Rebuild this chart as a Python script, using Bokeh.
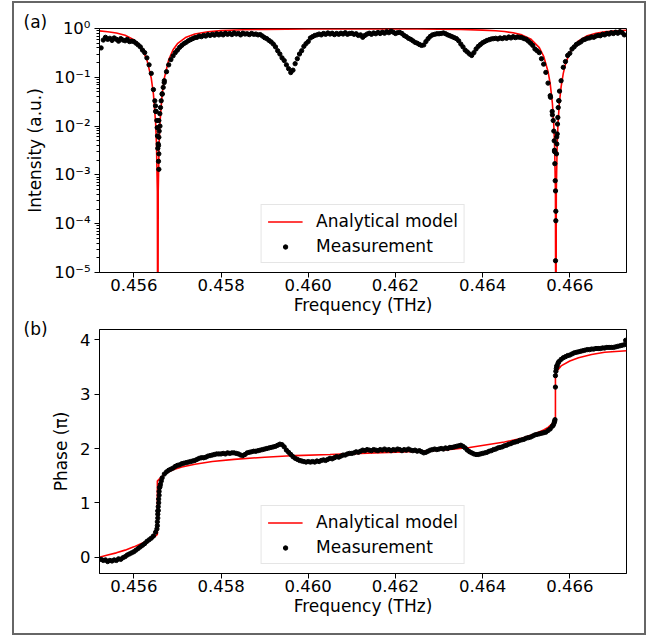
from bokeh.plotting import figure
from bokeh.models import (Range1d, FixedTicker, SingleIntervalTicker,
                          CustomJSTickFormatter, PrintfTickFormatter, Spacer)
from bokeh.layouts import column, row
from bokeh.embed import file_html
from bokeh.resources import INLINE

# ---------------- data ----------------
# measurement sampling frequencies (THz)
meas_freq = [
    0.45525, 0.45530, 0.45535, 0.45540, 0.45545, 0.45550, 0.45555, 0.45560, 0.45565, 0.45570,
    0.45575, 0.45580, 0.45585, 0.45590, 0.45595,
    0.45600, 0.45605, 0.45610, 0.45615, 0.45620, 0.45625, 0.45630, 0.45635, 0.45640, 0.45645,
    0.45650, 0.45655, 0.45660, 0.45665, 0.45670, 0.45675, 0.45680, 0.45685, 0.45690, 0.45695,
    0.45700, 0.45705, 0.45710, 0.45715, 0.45720, 0.45725, 0.45730, 0.45735, 0.45740, 0.45745,
    0.45750, 0.45755, 0.45760, 0.45765, 0.45770, 0.45775, 0.45780, 0.45785, 0.45790, 0.45795,
    0.45800, 0.45805, 0.45810, 0.45815, 0.45820, 0.45825, 0.45830, 0.45835, 0.45840, 0.45845,
    0.45850, 0.45855, 0.45860, 0.45865, 0.45870, 0.45875, 0.45880, 0.45885, 0.45890, 0.45895,
    0.45900, 0.45905, 0.45910, 0.45915, 0.45920, 0.45925, 0.45930, 0.45935, 0.45940, 0.45945,
    0.45950, 0.45955, 0.45960, 0.45965, 0.45970, 0.45975, 0.45980, 0.45985, 0.45990, 0.45995,
    0.46000, 0.46005, 0.46010, 0.46015, 0.46020, 0.46025, 0.46030, 0.46035, 0.46040, 0.46045,
    0.46050, 0.46055, 0.46060, 0.46065, 0.46070, 0.46075, 0.46080, 0.46085, 0.46090, 0.46095,
    0.46100, 0.46105, 0.46110, 0.46115, 0.46120, 0.46125, 0.46130, 0.46135, 0.46140, 0.46145,
    0.46150, 0.46155, 0.46160, 0.46165, 0.46170, 0.46175, 0.46180, 0.46185, 0.46190, 0.46195,
    0.46200, 0.46205, 0.46210, 0.46215, 0.46220, 0.46225, 0.46230, 0.46235, 0.46240, 0.46245,
    0.46250, 0.46255, 0.46260, 0.46265, 0.46270, 0.46275, 0.46280, 0.46285, 0.46290, 0.46295,
    0.46300, 0.46305, 0.46310, 0.46315, 0.46320, 0.46325, 0.46330, 0.46335, 0.46340, 0.46345,
    0.46350, 0.46355, 0.46360, 0.46365, 0.46370, 0.46375, 0.46380, 0.46385, 0.46390, 0.46395,
    0.46400, 0.46405, 0.46410, 0.46415, 0.46420, 0.46425, 0.46430, 0.46435, 0.46440, 0.46445,
    0.46450, 0.46455, 0.46460, 0.46465, 0.46470, 0.46475, 0.46480, 0.46485, 0.46490, 0.46495,
    0.46500, 0.46505, 0.46510, 0.46515, 0.46520, 0.46525, 0.46530, 0.46535, 0.46540, 0.46545,
    0.46550, 0.46555, 0.46560, 0.46565, 0.46570, 0.46575, 0.46580, 0.46585, 0.46590, 0.46595,
    0.46600, 0.46605, 0.46610, 0.46615, 0.46620, 0.46625, 0.46630, 0.46635, 0.46640, 0.46645,
    0.46650, 0.46655, 0.46660, 0.46665, 0.46670, 0.46675, 0.46680, 0.46685, 0.46690, 0.46695,
    0.46700, 0.46705, 0.46710, 0.46715, 0.46720, 0.46725,
]

# measured intensity (a.u.) at meas_freq
meas_intensity = [
    0.40, 0.58, 0.66, 0.60, 0.63, 0.57, 0.64, 0.60, 0.55, 0.62, 0.58, 0.56, 0.60, 0.54, 0.55,
    0.54, 0.50, 0.46, 0.42, 0.36, 0.32, 0.25, 0.18, 0.12, 0.056, 0.020, 0.0035, 0.010, 0.046, 0.085, 0.13, 0.18, 0.23, 0.275, 0.32,
    0.36, 0.41, 0.45, 0.49, 0.52, 0.56, 0.59, 0.62, 0.65, 0.66, 0.70, 0.68, 0.72, 0.70, 0.75, 0.72, 0.76, 0.73, 0.78, 0.74,
    0.78, 0.74, 0.80, 0.76, 0.79, 0.75, 0.81, 0.77, 0.79, 0.74, 0.80, 0.77, 0.78, 0.75, 0.79, 0.76, 0.77, 0.74, 0.75, 0.70,
    0.65, 0.62, 0.57, 0.53, 0.48, 0.42, 0.35, 0.30, 0.25, 0.22, 0.18, 0.15, 0.125, 0.14, 0.19, 0.24, 0.30, 0.35, 0.43, 0.49,
    0.54, 0.64, 0.68, 0.72, 0.74, 0.77, 0.74, 0.79, 0.76, 0.81, 0.77, 0.80, 0.75, 0.79, 0.76, 0.80, 0.77, 0.82, 0.76, 0.79,
    0.80, 0.76, 0.78, 0.72, 0.74, 0.66, 0.72, 0.77, 0.80, 0.76, 0.81, 0.78, 0.83, 0.79, 0.84, 0.80, 0.86, 0.82, 0.88, 0.84,
    0.79, 0.82, 0.83, 0.79, 0.72, 0.68, 0.63, 0.60, 0.56, 0.52, 0.50, 0.47, 0.45, 0.46, 0.54, 0.62, 0.69, 0.74, 0.76, 0.78,
    0.78, 0.79, 0.81, 0.78, 0.74, 0.71, 0.68, 0.65, 0.62, 0.56, 0.48, 0.42, 0.36, 0.33, 0.30, 0.28, 0.32, 0.38, 0.43, 0.47,
    0.51, 0.54, 0.57, 0.59, 0.61, 0.62, 0.63, 0.61, 0.64, 0.62, 0.65, 0.63, 0.67, 0.64, 0.68, 0.65, 0.67, 0.66, 0.65, 0.62,
    0.60, 0.55, 0.50, 0.45, 0.38, 0.35, 0.32, 0.24, 0.186, 0.126, 0.076, 0.042, 0.017, 0.003, 0.006, 0.033, 0.085, 0.16, 0.21, 0.28,
    0.31, 0.38, 0.42, 0.47, 0.50, 0.53, 0.58, 0.60, 0.63, 0.64, 0.67, 0.66, 0.70, 0.72, 0.71, 0.76, 0.74, 0.79, 0.77, 0.82,
    0.79, 0.84, 0.80, 0.86, 0.82, 0.74,
]

# extra (densely sampled) measurement points inside the two resonance dips
dip_freq = [
    0.456482, 0.456497, 0.456513, 0.456528, 0.456536, 0.456543, 0.456559, 0.456574, 0.456582, 0.456574,
    0.456566, 0.456574, 0.456566, 0.456574, 0.456597, 0.456612, 0.456628, 0.456651, 0.456674, 0.456697,
    0.465557, 0.465596, 0.465619, 0.465633, 0.465642, 0.465649, 0.465656, 0.465665, 0.465672, 0.465679,
    0.465679, 0.465672, 0.465695, 0.465702, 0.465711, 0.465718, 0.465725, 0.465734, 0.465748, 0.465764,
]
dip_intensity = [
    0.033, 0.026, 0.020, 0.013, 0.0093, 0.0063, 0.0043, 0.013, 0.0079, 0.0059,
    0.0040, 0.0027, 0.0019, 0.0013, 0.018, 0.024, 0.033, 0.045, 0.062, 0.078,
    0.039, 0.020, 0.013, 0.0079, 0.0050, 0.0032, 0.0017, 0.00076, 0.00047, 0.00018,
    0.000115, 0.0000174, 0.0027, 0.0043, 0.0069, 0.011, 0.015, 0.024, 0.033, 0.052,
]

# measured phase (units of pi) at meas_freq
meas_phase = [
    -0.04, -0.06, -0.05, -0.08, -0.06, -0.07, -0.05, -0.06, -0.03, -0.04, -0.01, 0.01, 0.04, 0.06, 0.08,
    0.10, 0.13, 0.16, 0.19, 0.22, 0.25, 0.29, 0.32, 0.35, 0.39, 0.46, 0.85, 1.30, 1.46, 1.53, 1.57, 1.60, 1.62, 1.64, 1.67,
    1.69, 1.70, 1.72, 1.73, 1.74, 1.75, 1.76, 1.77, 1.78, 1.80, 1.82, 1.83, 1.83, 1.84, 1.86, 1.87, 1.88, 1.89, 1.90, 1.90,
    1.90, 1.91, 1.90, 1.92, 1.91, 1.92, 1.92, 1.91, 1.90, 1.88, 1.87, 1.89, 1.92, 1.93, 1.94, 1.95, 1.95, 1.96, 1.97, 1.98,
    1.99, 2.00, 2.01, 2.02, 2.03, 2.04, 2.06, 2.08, 2.07, 2.03, 1.97, 1.93, 1.89, 1.85, 1.82, 1.80, 1.78, 1.77, 1.76, 1.75,
    1.76, 1.75, 1.76, 1.75, 1.77, 1.76, 1.78, 1.79, 1.78, 1.80, 1.82, 1.81, 1.83, 1.85, 1.84, 1.86, 1.88, 1.88, 1.90, 1.91,
    1.91, 1.92, 1.94, 1.93, 1.95, 1.97, 1.96, 1.98, 1.97, 1.96, 1.98, 1.97, 1.96, 1.98, 1.97, 1.99, 1.97, 1.98, 1.96, 1.98,
    1.97, 1.99, 1.98, 1.96, 1.98, 1.97, 1.99, 1.97, 1.96, 1.97, 1.95, 1.96, 1.94, 1.92, 1.93, 1.95, 1.97, 1.98, 1.99, 1.98,
    1.99, 2.00, 1.99, 2.01, 2.00, 2.02, 2.02, 2.03, 2.04, 2.05, 2.06, 2.04, 2.01, 1.97, 1.94, 1.92, 1.90, 1.89, 1.89, 1.90,
    1.91, 1.92, 1.93, 1.95, 1.96, 1.98, 1.99, 2.01, 2.02, 2.03, 2.05, 2.06, 2.08, 2.09, 2.11, 2.12, 2.13, 2.15, 2.16, 2.17,
    2.19, 2.20, 2.21, 2.23, 2.25, 2.26, 2.27, 2.28, 2.29, 2.30, 2.33, 2.36, 2.41, 2.50, 3.52, 3.60, 3.64, 3.67, 3.69, 3.71,
    3.72, 3.74, 3.76, 3.77, 3.78, 3.79, 3.80, 3.81, 3.82, 3.82, 3.83, 3.83, 3.84, 3.84, 3.84, 3.85, 3.85, 3.86, 3.86, 3.86,
    3.86, 3.87, 3.88, 3.89, 3.90, 3.91,
]

# extra measured phase points on the two phase jumps
jump_freq = [
    0.45653, 0.45654, 0.45654, 0.45655, 0.45655, 0.45656, 0.45656, 0.45657, 0.45657, 0.45658,
    0.45658, 0.45659, 0.45661, 0.45663,
    0.46562, 0.46564, 0.46566, 0.46567, 0.46567, 0.46568, 0.46569, 0.46571, 0.46573, 0.46728,
]
jump_phase = [
    0.52, 0.58, 0.65, 0.72, 0.79, 0.86, 0.93, 1.00, 1.07, 1.14,
    1.21, 1.28, 1.34, 1.40,
    2.43, 2.47, 2.53, 3.13, 3.34, 3.42, 3.47, 3.52, 3.57, 3.99,
]

# analytical model: intensity
model_int_freq = [
    0.45521, 0.4554, 0.4556, 0.4558, 0.4560, 0.4561, 0.4562, 0.4563, 0.4564, 0.45645,
    0.4565, 0.45652, 0.45654, 0.45655, 0.45656, 0.45658, 0.4566, 0.45665, 0.4567, 0.4568,
    0.4569, 0.4570, 0.4572, 0.4574, 0.4577, 0.4580, 0.4585, 0.4590, 0.4595, 0.4600,
    0.4605, 0.4610, 0.4615, 0.4620, 0.4625, 0.4630, 0.4635, 0.4640, 0.4643, 0.4645,
    0.4647, 0.4649, 0.4651, 0.4653, 0.4654, 0.4655, 0.46555, 0.4656, 0.46563, 0.46565,
    0.46567, 0.46568, 0.46569, 0.46571, 0.46573, 0.46576, 0.4658, 0.46585, 0.4659, 0.4660,
    0.4662, 0.4664, 0.4666, 0.4668, 0.4670, 0.4673,
]
model_int_val = [
    0.893, 0.860, 0.808, 0.725, 0.587, 0.488, 0.366, 0.228, 0.096, 0.0451,
    0.0117, 0.00424, 0.00047, 1e-8, 0.00047, 0.00424, 0.0117, 0.0451, 0.096, 0.228,
    0.366, 0.488, 0.664, 0.771, 0.859, 0.905, 0.943, 0.961, 0.971, 0.976,
    0.979, 0.980, 0.980, 0.978, 0.974, 0.967, 0.953, 0.927, 0.897, 0.865,
    0.817, 0.740, 0.612, 0.405, 0.270, 0.132, 0.074, 0.0294, 0.0117, 0.00424,
    0.00047, 1e-8, 0.00047, 0.00424, 0.0117, 0.0294, 0.0637, 0.120, 0.186, 0.325,
    0.559, 0.708, 0.797, 0.853, 0.889, 0.923,
]

# analytical model: phase (units of pi)
model_phase_freq = [
    0.45521, 0.4554, 0.4556, 0.4558, 0.4560, 0.4562, 0.4563, 0.4564, 0.4565, 0.45654,
    0.45654, 0.4566, 0.4567, 0.4568, 0.4569, 0.4571, 0.4574, 0.4578, 0.4583, 0.4590,
    0.4597, 0.4605, 0.4612, 0.4620, 0.4626, 0.4632, 0.4637, 0.4641, 0.4645, 0.4649,
    0.4652, 0.4654, 0.4655, 0.4656, 0.46567, 0.46567, 0.4657, 0.4658, 0.4660, 0.4662,
    0.4665, 0.4668, 0.4673,
]
model_phase_val = [
    0.00, 0.04, 0.08, 0.13, 0.19, 0.26, 0.30, 0.34, 0.39, 0.42,
    1.40, 1.45, 1.52, 1.57, 1.61, 1.66, 1.71, 1.76, 1.80, 1.84,
    1.87, 1.89, 1.91, 1.93, 1.95, 1.98, 2.02, 2.07, 2.12, 2.19,
    2.27, 2.34, 2.39, 2.46, 2.54, 3.32, 3.42, 3.52, 3.61, 3.67,
    3.73, 3.77, 3.80,
]

x_ticks_interval = 0.002
intensity_ticks = [1e-5, 1e-4, 1e-3, 1e-2, 1e-1, 1.0]
phase_ticks_interval = 1
panel_labels = ["(a)", "(b)"]

# ---------------- styling helpers ----------------
FONT = "DejaVu Sans"
SUP_JS = """
const e = Math.round(Math.log10(tick));
const sup = {'-':'\u207b','0':'\u2070','1':'\u00b9','2':'\u00b2','3':'\u00b3',
             '4':'\u2074','5':'\u2075','6':'\u2076','7':'\u2077','8':'\u2078','9':'\u2079'};
return '10' + String(e).split('').map(c => sup[c]).join('');
"""


def style(p, ylabel, tag, tag_standoff):
    p.xgrid.visible = False
    p.ygrid.visible = False
    p.outline_line_color = "black"
    p.outline_line_width = 1
    p.outline_line_alpha = 1
    p.background_fill_color = "white"
    p.border_fill_color = "white"
    for ax in (p.xaxis[0], p.yaxis[0]):
        ax.axis_line_color = "black"
        ax.major_tick_line_color = "black"
        ax.major_tick_out = 5
        ax.major_tick_in = 0
        ax.minor_tick_out = 3
        ax.minor_tick_in = 0
        ax.major_label_text_font = FONT
        ax.major_label_text_font_size = "16.5px"
        ax.major_label_text_color = "black"
        ax.major_label_standoff = 4
        ax.axis_label_text_font = FONT
        ax.axis_label_text_font_size = "17px"
        ax.axis_label_text_font_style = "normal"
        ax.axis_label_text_color = "black"
        ax.axis_label_standoff = 4
    p.xaxis[0].axis_label = "Frequency (THz)"
    p.xaxis[0].ticker = SingleIntervalTicker(interval=x_ticks_interval, num_minor_ticks=0)
    p.xaxis[0].formatter = PrintfTickFormatter(format="%.3f")
    p.xaxis[0].minor_tick_line_color = None
    p.xaxis[0].major_label_standoff = 1
    p.xaxis[0].axis_label_standoff = 1
    p.yaxis[0].axis_label = ylabel
    p.yaxis[0].axis_label_standoff = 6
    # panel tag "(a)" / "(b)" as a left aligned title pulled into the left margin
    p.title.text = tag
    p.title.align = "left"
    p.title.offset = -76
    p.title.standoff = tag_standoff
    p.title.text_font = FONT
    p.title.text_font_size = "17px"
    p.title.text_font_style = "normal"
    p.title.text_color = "black"


def style_legend(p):
    lg = p.legend[0]
    lg.location = "bottom_center"
    lg.margin = 9
    lg.padding = 6
    lg.spacing = 5
    lg.glyph_width = 35
    lg.glyph_height = 11
    lg.label_height = 20
    lg.label_standoff = 14
    lg.label_text_font = FONT
    lg.label_text_font_size = "17px"
    lg.label_text_color = "black"
    lg.border_line_color = "#cccccc"
    lg.border_line_width = 1
    lg.background_fill_color = "white"
    lg.background_fill_alpha = 0.8


x_range = Range1d(0.455213, 0.4673)

# ---------------- panel (a) ----------------
p1 = figure(width=630, height=315, output_backend="svg", toolbar_location=None,
            y_axis_type="log", x_range=x_range, y_range=Range1d(1e-5, 1.0),
            min_border_left=85, min_border_right=18, min_border_top=25, min_border_bottom=46)
style(p1, "Intensity (a.u.)", panel_labels[0], -6)
minor = [m * 10.0 ** k for k in range(-5, 0) for m in range(2, 10)]
p1.yaxis[0].ticker = FixedTicker(ticks=intensity_ticks, minor_ticks=minor)
p1.yaxis[0].formatter = CustomJSTickFormatter(code=SUP_JS)
p1.yaxis[0].minor_tick_line_color = "black"

p1.line(model_int_freq, model_int_val, line_color="#ff0000", line_width=1.6,
        legend_label="Analytical model")
p1.scatter(meas_freq + dip_freq, meas_intensity + dip_intensity, size=4.3,
           fill_color="black", line_color="black", legend_label="Measurement")
style_legend(p1)

# ---------------- panel (b) ----------------
p2 = figure(width=630, height=315, output_backend="svg", toolbar_location=None,
            x_range=x_range, y_range=Range1d(-0.30, 4.19),
            min_border_left=85, min_border_right=18, min_border_top=11, min_border_bottom=60)
style(p2, "Phase (\u03c0)", panel_labels[1], -18)
p2.yaxis[0].ticker = SingleIntervalTicker(interval=phase_ticks_interval, num_minor_ticks=0)
p2.yaxis[0].minor_tick_line_color = None

p2.line(model_phase_freq, model_phase_val, line_color="#ff0000", line_width=1.6,
        legend_label="Analytical model")
p2.scatter(meas_freq + jump_freq, meas_phase + jump_phase, size=4.3,
           fill_color="black", line_color="black", legend_label="Measurement")
style_legend(p2)

boxed = column(p1, p2, styles={"border": "2px solid #666666"})
layout = column(Spacer(width=10, height=1), row(Spacer(width=12, height=10), boxed))

open("out.html", "w").write(file_html(layout, INLINE))
